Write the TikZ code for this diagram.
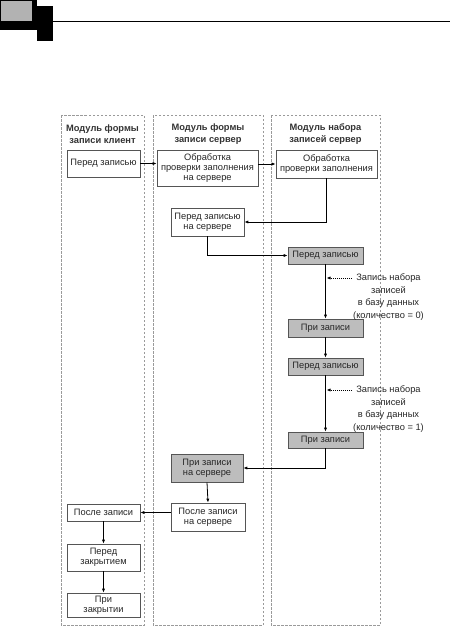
\documentclass[tikz,border=0pt]{standalone}
\usepackage{fontspec}
\setmainfont{Liberation Sans}
\usetikzlibrary{arrows.meta}
\definecolor{boxline}{HTML}{555555}
\definecolor{boxfill}{HTML}{BDBDBD}
\definecolor{colline}{HTML}{9A9A9A}
\begin{document}
\begin{tikzpicture}[x=1pt,y=-1pt,
  every node/.style={font=\fontsize{9.3}{10.3}\selectfont, align=center, inner sep=0pt, text=black!85},
  wbox/.style={draw=boxline, line width=0.7pt, fill=white},
  gbox/.style={draw=boxline, line width=0.7pt, fill=boxfill},
  colbox/.style={draw=colline, line width=0.7pt, dash pattern=on 2.5pt off 1.5pt},
  hdr/.style={font=\fontsize{9.3}{11.5}\selectfont\bfseries, text=black!80},
  arr/.style={-{Latex[length=4pt,width=3.2pt]}, line width=0.8pt},
  darr/.style={-{Latex[length=4pt,width=3.2pt]}, line width=0.8pt, dash pattern=on 1pt off 1pt},
  note/.style={font=\fontsize{9.3}{12.5}\selectfont}
]
\useasboundingbox (0,0) rectangle (451,627);
% page decoration
\fill[black] (0,0) rectangle (37,30);
\fill[black!30] (1,1) rectangle (32,21);
\fill[black] (37,6) rectangle (53,41);
\coordinate (ls) at (53,21);
\coordinate (le) at (450,21);
\draw[line width=0.8pt] (ls) -- (le);
% columns
\draw[colbox] (61,115) rectangle (144,625);
\draw[colbox] (153,115) rectangle (263,625);
\draw[colbox] (271,115) rectangle (380,625);
\node[hdr] (h1) at (102.5,134) {Модуль формы\\записи клиент};
\node[hdr] (h2) at (208,134) {Модуль формы\\записи сервер};
\node[hdr] (h3) at (325.5,134) {Модуль набора\\записей сервер};
% nodes
\node[wbox, minimum width=73, minimum height=27] (A) at (103.5,163.5) {Перед записью};
\node[wbox, minimum width=101, minimum height=36] (B) at (207.5,168) {Обработка\\проверки заполнения\\на сервере};
\node[wbox, minimum width=101, minimum height=28] (C) at (326.5,164) {Обработка\\проверки заполнения};
\node[wbox, minimum width=73, minimum height=28] (D) at (207.5,222) {Перед записью\\на сервере};
\node[gbox, minimum width=75, minimum height=17] (E) at (325.5,255.5) {Перед записью};
\node[gbox, minimum width=75, minimum height=18] (F) at (325.5,328) {При записи};
\node[gbox, minimum width=75, minimum height=17] (G) at (325.5,366.5) {Перед записью};
\node[gbox, minimum width=75, minimum height=16] (H) at (325.5,440) {При записи};
\node[gbox, minimum width=72, minimum height=28] (I) at (207,468) {При записи\\на сервере};
\node[wbox, minimum width=74, minimum height=28] (J) at (208,517) {После записи\\на сервере};
\node[wbox, minimum width=73, minimum height=17] (K) at (103.5,512.5) {После записи};
\node[wbox, minimum width=73, minimum height=27] (L) at (103.5,557.5) {Перед\\закрытием};
\node[wbox, minimum width=73, minimum height=24] (M) at (103.5,605) {При\\закрытии};
% notes
\node[note] (n1) at (388.5,297) {Запись набора\\записей\\в базу данных\\(количество = 0)};
\node[note] (n2) at (388.5,409) {Запись набора\\записей\\в базу данных\\(количество = 1)};
\coordinate (d1s) at (352,278);
\coordinate (d1e) at (326.5,278);
\coordinate (d2s) at (352,390);
\coordinate (d2e) at (326.5,390);
% connectors
\draw[arr] (A.east) -- (A.east -| B.west);
\draw[arr] (B.east |- C.west) -- (C.west);
\draw[arr] (C.south) |- (D.east);
\draw[arr] (D.south) |- (E.west);
\draw[arr] (E.south) -- (F.north);
\draw[arr] (F.south) -- (G.north);
\draw[arr] (G.south) -- (H.north);
\draw[arr] (H.south) |- (I.east);
\draw[arr] (I.south) -- (J.north);
\draw[arr] (J.west |- K.east) -- (K.east);
\draw[arr] (K.south) -- (L.north);
\draw[arr] (L.south) -- (M.north);
\draw[darr] (d1s) -- (d1e);
\draw[darr] (d2s) -- (d2e);
\end{tikzpicture}
\end{document}
